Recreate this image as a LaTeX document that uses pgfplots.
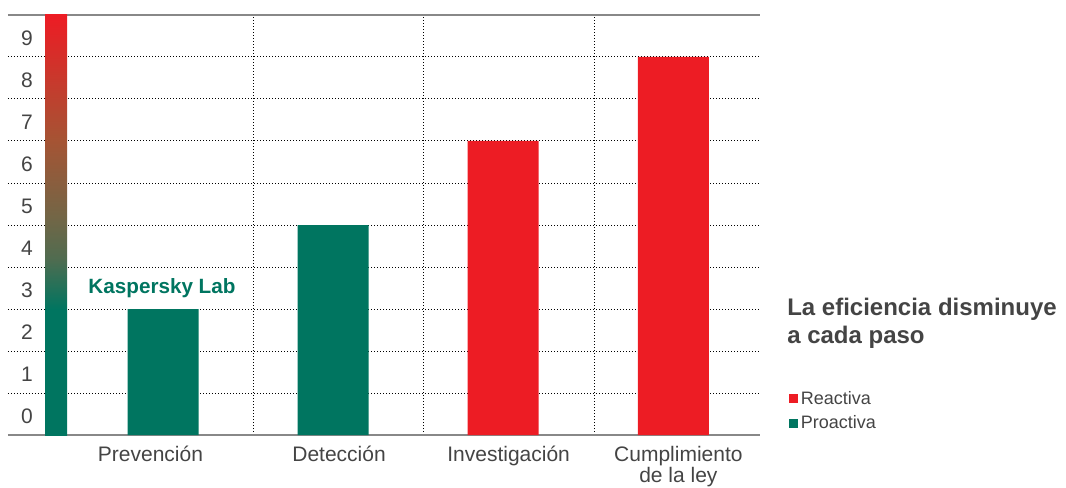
\documentclass[border=0pt]{standalone}
\usepackage{pgfplots}
\pgfplotsset{compat=1.18}
\usepackage{fontspec}
\setmainfont{Liberation Sans}
\definecolor{kgreen}{RGB}{0,117,96}
\definecolor{kred}{RGB}{237,28,36}
\definecolor{kolive}{RGB}{115,102,70}
\definecolor{kgo}{RGB}{80,108,80}
\definecolor{kbrown}{RGB}{165,84,52}
\definecolor{tgray}{RGB}{68,68,68}
\definecolor{agray}{RGB}{136,136,136}
\pgfdeclareverticalshading{kgrad}{100bp}{color(0bp)=(kgreen); color(25bp)=(kgreen); color(40bp)=(kgreen); color(46bp)=(kgo); color(51bp)=(kolive); color(60bp)=(kbrown); color(75bp)=(kred); color(100bp)=(kred)}
\begin{document}
\begin{tikzpicture}
\path[use as bounding box] (0pt,0pt) rectangle (799.5pt,-366pt);
\begin{axis}[
  at={(6pt,-326.25pt)}, anchor=south west,
  scale only axis, width=564pt, height=315pt,
  xmin=0.0885, xmax=4.51, ymin=0, ymax=10,
  separate axis lines,
  x axis line style={agray, line width=1.5pt},
  y axis line style={draw=none},
  xtick={0.926,2.035,3.032,4.03},
  xticklabels={Prevención,Detección,Investigación,{Cumplimiento\\de la ley}},
  xticklabel style={align=center, font=\fontsize{15.75}{16}\selectfont, text=tgray, anchor=north, yshift=-4.75pt},
  ytick={0.5,1.5,2.5,3.5,4.5,5.5,6.5,7.5,8.5,9.5},
  yticklabels={0,1,2,3,4,5,6,7,8,9},
  yticklabel style={font=\fontsize{15.75}{18}\selectfont, text=tgray, anchor=center, xshift=14.25pt, yshift=-1.5pt},
  /pgf/number format/assume math mode=true,
  minor xtick={1.534,2.531,3.534},
  minor ytick={1,2,3,4,5,6,7,8,9},
  xminorgrids, yminorgrids,
  minor grid style={black, line width=0.75pt, dash pattern=on 0.75pt off 1.5pt},
  major tick length=0pt, minor tick length=0pt,
  legend style={at={(1.0386,0.111)}, anchor=north west, draw=none, fill=none,
    font=\fontsize{13.5}{16}\selectfont, text=tgray, inner sep=0pt, row sep=3pt,
    cells={anchor=west}},
  legend image code/.code={\fill[#1] (0pt,-3.375pt) rectangle (6.75pt,3.375pt);},
]
\addplot[ybar, bar width=16.5pt, bar shift=0pt, draw=none, shading=kgrad, forget plot] coordinates {(0.372,10)};
\addplot[ybar, bar width=53.25pt, bar shift=0pt, draw=none, fill=kred] coordinates {(3,7) (4,9)};
\addplot[ybar, bar width=53.25pt, bar shift=0pt, draw=none, fill=kgreen] coordinates {(1,3) (2,5)};
\legend{Reactiva,Proactiva}
\node[anchor=base, font=\bfseries\fontsize{15.5}{18}\selectfont, text=kgreen] at (axis cs:0.994,3.38) {Kaspersky Lab};
\end{axis}
\node[anchor=base west, font=\bfseries\fontsize{18}{21}\selectfont, text=tgray, inner sep=0pt] at (590.25pt,-236.25pt) {La eficiencia disminuye};
\node[anchor=base west, font=\bfseries\fontsize{18}{21}\selectfont, text=tgray, inner sep=0pt] at (590.25pt,-257.25pt) {a cada paso};
\end{tikzpicture}
\end{document}
